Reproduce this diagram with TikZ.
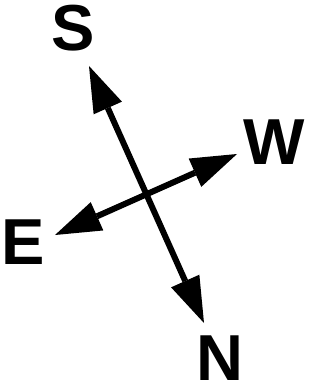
\documentclass[tikz,border=0pt]{standalone}
\usepackage{fontspec}
\setmainfont{Liberation Sans}
\usetikzlibrary{arrows.meta}
\begin{document}
\begin{tikzpicture}[x=1pt,y=-1pt,
  lbl/.style={inner sep=0pt, font=\fontsize{65}{65}\selectfont\bfseries},
  arr/.style={line width=6pt, {Triangle[length=46pt,width=31pt,line width=0pt]}-{Triangle[length=46pt,width=31pt,line width=0pt]}}]
\useasboundingbox (0,0) rectangle (326,390);
\node[lbl] (S) at (73,28) {S};
\node[lbl] (W) at (274,142) {W};
\node[lbl] (E) at (23,242) {E};
\node[lbl] (N) at (220,358) {N};
\coordinate (st) at (89,66);
\coordinate (nt) at (204,323);
\coordinate (wt) at (237,154);
\coordinate (et) at (55,235);
\draw[arr] (st) -- (nt);
\draw[arr] (et) -- (wt);
\end{tikzpicture}
\end{document}
